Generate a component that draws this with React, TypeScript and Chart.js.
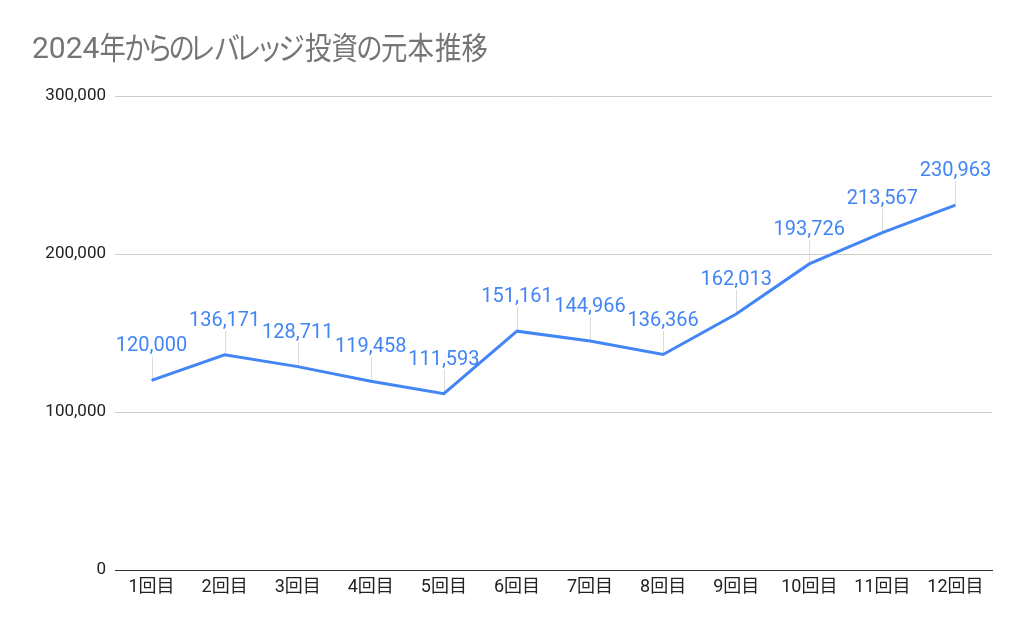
import React, { useEffect, useRef } from 'react';
import { Chart, registerables } from 'chart.js';

Chart.register(...registerables);

const TITLE = '2024年からのレバレッジ投資の元本推移';
const categories = ['1回目', '2回目', '3回目', '4回目', '5回目', '6回目', '7回目', '8回目', '9回目', '10回目', '11回目', '12回目'];
const principal = [120000, 136171, 128711, 119458, 111593, 151161, 144966, 136366, 162013, 193726, 213567, 230963];
const yMin = 0;
const yMax = 300000;
const yStep = 100000;

const LINE_COLOR = '#4285F4';

const titlePlugin = {
  id: 'sheetTitle',
  afterDraw(chart: any) {
    const ctx: CanvasRenderingContext2D = chart.ctx;
    ctx.save();
    ctx.fillStyle = '#757575';
    ctx.textBaseline = 'alphabetic';
    ctx.textAlign = 'left';
    ctx.font = "30px Roboto, 'Noto Sans CJK JP', sans-serif";
    const m = TITLE.match(/^[0-9A-Za-z]+/);
    const head = m ? m[0] : '';
    const rest = TITLE.slice(head.length);
    const x0 = 32;
    const baseline = 58;
    ctx.fillText(head, x0, baseline);
    const headW = ctx.measureText(head).width;
    const sx = 0.88;
    const chars = Array.from(rest);
    const metrics = chars.map((c) => ctx.measureText(c));
    const inks = metrics.map((mm) => (mm.actualBoundingBoxLeft + mm.actualBoundingBoxRight) * sx);
    const start = x0 + headW + 1;
    const end = 487;
    const total = inks.reduce((s, v) => s + v, 0);
    const gap = (end - start - total) / Math.max(1, chars.length - 1);
    let x = start;
    chars.forEach((c, i) => {
      ctx.save();
      ctx.translate(x + metrics[i].actualBoundingBoxLeft * sx, baseline + 1);
      ctx.scale(sx, 1.04);
      ctx.fillText(c, 0, 0);
      ctx.restore();
      x += inks[i] + gap;
    });
    ctx.restore();
  },
};

const leaderPlugin = {
  id: 'leaders',
  beforeDatasetsDraw(chart: any) {
    const ctx: CanvasRenderingContext2D = chart.ctx;
    const meta = chart.getDatasetMeta(0);
    ctx.save();
    ctx.strokeStyle = '#dcdcdc';
    ctx.lineWidth = 1;
    meta.data.forEach((pt: any) => {
      const { x, y } = pt.getProps(['x', 'y'], true);
      const px = Math.round(x) + 0.5;
      ctx.beginPath();
      ctx.moveTo(px, y);
      ctx.lineTo(px, y - 24);
      ctx.stroke();
    });
    ctx.restore();
  },
  afterDatasetsDraw(chart: any) {
    const ctx: CanvasRenderingContext2D = chart.ctx;
    const meta = chart.getDatasetMeta(0);
    ctx.save();
    ctx.fillStyle = LINE_COLOR;
    ctx.font = '20px Roboto, sans-serif';
    ctx.textAlign = 'center';
    ctx.textBaseline = 'alphabetic';
    meta.data.forEach((pt: any, i: number) => {
      const { x, y } = pt.getProps(['x', 'y'], true);
      ctx.fillText(principal[i].toLocaleString('en-US'), x, y - 29);
    });
    ctx.restore();
  },
};

export default function App() {
  const ref = useRef<HTMLCanvasElement | null>(null);

  useEffect(() => {
    if (!ref.current) return;
    const tickFamily = "Roboto, 'Noto Sans CJK JP', sans-serif";

    const chart = new Chart(ref.current, {
      type: 'line',
      data: {
        labels: categories,
        datasets: [
          {
            label: '元本',
            data: principal,
            borderColor: LINE_COLOR,
            backgroundColor: LINE_COLOR,
            borderWidth: 3,
            pointRadius: 0,
            pointHoverRadius: 0,
            tension: 0,
            fill: false,
          },
        ],
      },
      options: {
        animation: false,
        responsive: true,
        maintainAspectRatio: false,
        layout: { padding: { top: 96, right: 32, left: 0, bottom: 0 } },
        plugins: {
          legend: { display: false },
          title: { display: false },
          tooltip: { enabled: false },
        },
        scales: {
          x: {
            type: 'category',
            offset: true,
            grid: { display: false, drawTicks: false },
            border: { display: true, color: '#333333', width: 1 },
            ticks: {
              color: '#222222',
              padding: 7,
              maxRotation: 0,
              autoSkip: false,
              font: { family: tickFamily, size: 18 },
            },
            afterFit: (s: any) => {
              s.height = 63;
            },
          },
          y: {
            min: yMin,
            max: yMax,
            grid: {
              drawTicks: false,
              color: (c: any) => (c.tick && c.tick.value === 0 ? '#333333' : '#cccccc'),
              lineWidth: 1,
            },
            border: { display: false },
            ticks: {
              stepSize: yStep,
              color: '#222222',
              padding: 9,
              font: { family: tickFamily, size: 17 },
              callback: (v: any) => Number(v).toLocaleString('en-US'),
            },
            afterFit: (s: any) => {
              s.width = 115;
            },
          },
        },
      },
      plugins: [titlePlugin, leaderPlugin],
    });
    return () => chart.destroy();
  }, []);

  return (
    <div style={{ position: 'fixed', left: 0, top: 0, width: 1024, height: 633, background: '#ffffff' }}>
      <canvas ref={ref} />
    </div>
  );
}
